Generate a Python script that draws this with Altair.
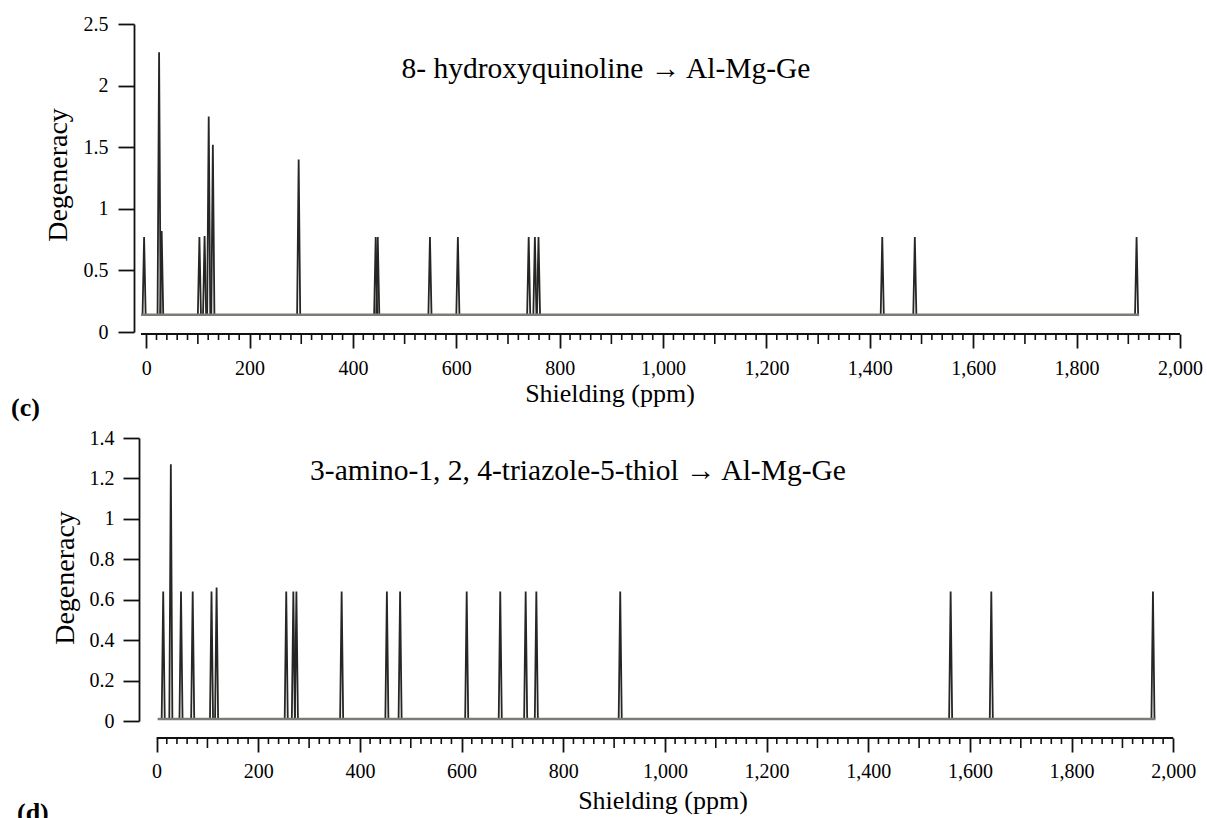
import altair as alt
import pandas as pd

# ---- Panel (c): 8-hydroxyquinoline -> Al-Mg-Ge ----
c_shift = [-4, 25, 30, 103, 113, 121, 129, 295, 444, 448, 549, 603, 740, 752, 759, 1424, 1487, 1916]
c_height = [0.77, 2.27, 0.82, 0.77, 0.78, 1.75, 1.52, 1.40, 0.77, 0.77, 0.77, 0.77,
            0.77, 0.77, 0.77, 0.77, 0.77, 0.77]
c_base = 0.14
c_span = [-10, 1921]

# ---- Panel (d): 3-amino-1,2,4-triazole-5-thiol -> Al-Mg-Ge ----
d_shift = [13, 28, 48, 71, 108, 118, 255, 269, 275, 364, 453, 479, 610, 676, 726, 747,
           912, 1562, 1642, 1960]
d_height = [0.64, 1.27, 0.64, 0.64, 0.64, 0.66, 0.64, 0.64, 0.64, 0.64, 0.64, 0.64,
            0.64, 0.64, 0.64, 0.64, 0.64, 0.64, 0.64, 0.64]
d_base = 0.01
d_span = [2, 1965]

x_major = list(range(0, 2001, 200))
x_mid = list(range(100, 2000, 200))
x_minor = [v for v in range(0, 2001, 20) if v % 100 != 0]
c_yticks = [0, 0.5, 1, 1.5, 2, 2.5]
d_yticks = [0, 0.2, 0.4, 0.6, 0.8, 1, 1.2, 1.4]

FONT = "Liberation Serif"
PLOT_W = 1039
HALF_W = 3  # half width of a drawn peak, ppm


def peak_frame(shifts, heights, base):
    rows = []
    for i, (p, h) in enumerate(zip(shifts, heights)):
        rows.append({"id": i, "o": 0, "x": p - HALF_W, "y": base})
        rows.append({"id": i, "o": 1, "x": p, "y": h})
        rows.append({"id": i, "o": 2, "x": p + HALF_W, "y": base})
    return pd.DataFrame(rows)


def text_layer(txt, px, py, size, align="center", angle=0, bold=False, baseline="alphabetic"):
    return alt.Chart(pd.DataFrame({"t": [txt]})).mark_text(
        font=FONT, fontSize=size, align=align, baseline=baseline, angle=angle,
        fontWeight="bold" if bold else "normal", color="black",
    ).encode(x=alt.value(px), y=alt.value(py), text="t:N")


def panel(shifts, heights, base, span, xdom, ydom, yvals, h, axis_x0, x_off, y_off,
          xlab_pad, ylab_pad, title, title_xy, xtitle_xy, ytitle_xy, tag, tag_xy):
    xs = alt.Scale(domain=xdom, nice=False, zero=False)
    ys = alt.Scale(domain=ydom, nice=False, zero=False)

    # spectrum peaks; this layer carries both axes
    peaks = alt.Chart(peak_frame(shifts, heights, base)).mark_line(
        color="#262624", strokeWidth=1.8, strokeJoin="miter", strokeMiterLimit=20
    ).encode(
        x=alt.X("x:Q", scale=xs, axis=alt.Axis(
            values=x_major, format=",d", tickSize=14, tickWidth=1.8, tickColor="#111",
            domain=False, grid=False, title=None, offset=x_off, labelPadding=xlab_pad,
            labelFont=FONT, labelFontSize=20, labelColor="black",
            labelFlush=False, labelOverlap=False)),
        y=alt.Y("y:Q", scale=ys, axis=alt.Axis(
            values=yvals, format="~g", tickSize=16, tickWidth=1.8, tickColor="#111",
            domainColor="#111", domainWidth=1.8, grid=False, title=None, offset=y_off,
            labelPadding=ylab_pad, labelFont=FONT, labelFontSize=20, labelColor="black")),
        detail="id:N",
        order="o:Q",
    )

    baseline = alt.Chart(pd.DataFrame({"a": [span[0]], "b": [span[1]], "y": [base]})).mark_rule(
        color="#7c7c77", strokeWidth=2.4
    ).encode(x=alt.X("a:Q", scale=xs), x2="b:Q", y=alt.Y("y:Q", scale=ys))

    axis_y = h + x_off
    axis_line = alt.Chart(pd.DataFrame({"a": [axis_x0], "b": [2000]})).mark_rule(
        color="#111", strokeWidth=1.8
    ).encode(x=alt.X("a:Q", scale=xs), x2="b:Q", y=alt.value(axis_y))

    mid_ticks = alt.Chart(pd.DataFrame({"v": x_mid})).mark_rule(
        color="#111", strokeWidth=1.6
    ).encode(x=alt.X("v:Q", scale=xs), y=alt.value(axis_y), y2=alt.value(axis_y + 10))

    minor_ticks = alt.Chart(pd.DataFrame({"v": x_minor})).mark_rule(
        color="#111", strokeWidth=1.6
    ).encode(x=alt.X("v:Q", scale=xs), y=alt.value(axis_y), y2=alt.value(axis_y + 6))

    layers = [
        peaks, baseline, axis_line, mid_ticks, minor_ticks,
        text_layer(title, title_xy[0], title_xy[1], 29.5),
        text_layer("Shielding (ppm)", xtitle_xy[0], xtitle_xy[1], 26),
        text_layer("Degeneracy", ytitle_xy[0], ytitle_xy[1], 28, angle=270, baseline="middle"),
        text_layer(tag, tag_xy[0], tag_xy[1], 26, align="left", bold=True),
    ]
    return alt.layer(*layers).properties(width=PLOT_W, height=h)


top = panel(c_shift, c_height, c_base, c_span, [-10, 2000], [0, 2.5], c_yticks, 308,
            axis_x0=-10, x_off=2, y_off=7, xlab_pad=10, ylab_pad=10,
            title="8- hydroxyquinoline \u2192 Al-Mg-Ge", title_xy=(465, 54),
            xtitle_xy=(469, 378), ytitle_xy=(-82, 151), tag="(c)", tag_xy=(-130, 392))

bottom = panel(d_shift, d_height, d_base, d_span, [-30.7, 2013.2], [0, 1.4], d_yticks, 283,
               axis_x0=0, x_off=17, y_off=2, xlab_pad=9, ylab_pad=9,
               title="3-amino-1, 2, 4-triazole-5-thiol \u2192 Al-Mg-Ge", title_xy=(437, 42),
               xtitle_xy=(522, 371), ytitle_xy=(-75, 140), tag="(d)", tag_xy=(-124, 383))

chart = alt.vconcat(top, bottom, spacing=106, bounds="flush").properties(
    padding={"left": 11, "top": 14, "right": 0, "bottom": 0}
).configure_view(stroke=None)

chart.save("out.html", embed_options={"renderer": "svg", "actions": False})
